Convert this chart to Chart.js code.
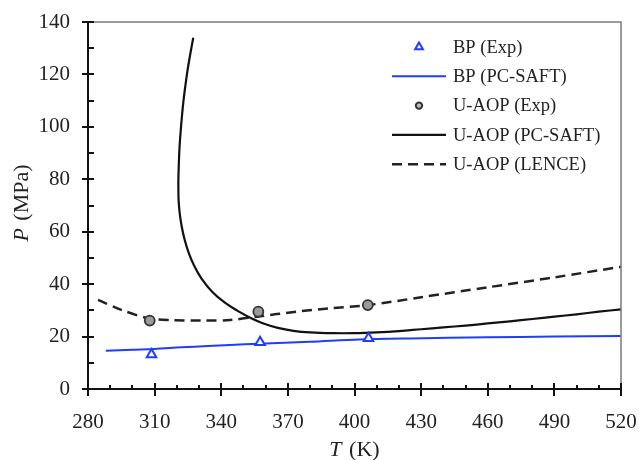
<!DOCTYPE html>
<html>
<head>
<meta charset="utf-8">
<script src="https://cdn.jsdelivr.net/npm/chart.js@4.4.1/dist/chart.umd.min.js"></script>
<style>
  html, body { margin: 0; padding: 0; background: #fff; }
  #wrap { width: 639px; height: 460px; position: relative; }
</style>
</head>
<body>
<div id="wrap"><canvas id="chart" width="639" height="460"></canvas></div>
<script>
// Values (T in K, P in MPa)
const bpExpT = [308.6, 357.5, 406.3];
const bpExpP = [13.2, 17.8, 19.4];

const uaopExpT = [307.8, 356.7, 406.0];
const uaopExpP = [26.1, 29.5, 32.0];

const bpSaftT = [288, 300, 310, 322, 334, 344, 357, 380, 402, 425, 460, 490, 520];
const bpSaftP = [14.6, 15.0, 15.3, 15.9, 16.4, 16.8, 17.3, 18.0, 18.9, 19.3, 19.7, 20.0, 20.2];

const uaopSaftT = [327.4, 326.1, 324.9, 323.9, 323.0, 322.3, 321.7, 321.2, 320.9, 320.7, 320.7, 320.8, 321.3, 322.2, 323.5, 325.3, 327.8, 331.2, 336.0, 341.5, 347.0, 353.5, 359.0, 365.5, 372.5, 380.0, 390.0, 400.0, 410.0, 420.0, 430.0, 440.0, 450.0, 460.0, 470.0, 480.0, 490.0, 500.0, 510.0, 520.0];
const uaopSaftP = [134.0, 128.0, 122.0, 116.0, 110.0, 104.0, 98.0, 92.0, 86.0, 80.0, 76.0, 72.0, 67.0, 62.0, 57.0, 52.0, 47.0, 42.0, 37.0, 33.0, 30.0, 27.0, 25.0, 23.3, 22.2, 21.6, 21.3, 21.3, 21.6, 22.1, 22.8, 23.5, 24.2, 25.0, 25.8, 26.7, 27.6, 28.5, 29.5, 30.4];

const uaopLenceT = [284.5, 295, 307, 317.5, 332.5, 344, 356, 374, 389, 406, 430, 460, 490, 520];
const uaopLenceP = [34.0, 30.2, 27.0, 26.3, 26.1, 26.3, 27.6, 29.5, 30.8, 32.0, 35.0, 38.8, 42.6, 46.6];

const xTicks = [280, 310, 340, 370, 400, 430, 460, 490, 520];
const yTicks = [0, 20, 40, 60, 80, 100, 120, 140];

const BLUE = '#1f3cff';
const FONT = "'Liberation Serif', 'Times New Roman', serif";

const pts = (xs, ys) => xs.map((x, i) => ({ x: x, y: ys[i] }));

// axis frame, ticks, titles and the boxed legend
const framePlugin = {
  id: 'frame',
  afterDraw(chart) {
    const { ctx, chartArea: a, scales: { x, y } } = chart;
    ctx.save();
    // thin grey top/right frame
    ctx.strokeStyle = '#7a7a7a';
    ctx.lineWidth = 1.5;
    ctx.beginPath();
    ctx.moveTo(a.left, a.top);
    ctx.lineTo(a.right, a.top);
    ctx.lineTo(a.right, a.bottom);
    ctx.stroke();

    ctx.strokeStyle = '#111';
    ctx.lineWidth = 2;
    ctx.beginPath();
    for (let v = 0; v <= 140; v += 10) {
      const py = Math.round(y.getPixelForValue(v));
      const major = v % 20 === 0;
      ctx.moveTo(a.left - (major ? 6 : 0), py);
      ctx.lineTo(a.left + 6, py);
    }
    for (let v = 280; v <= 520; v += 10) {
      const px = Math.round(x.getPixelForValue(v));
      const major = (v - 280) % 30 === 0;
      ctx.moveTo(px, a.bottom + (major ? 7 : 0));
      ctx.lineTo(px, a.bottom - (major ? 6 : 4));
    }
    ctx.stroke();

    // axis titles with italic symbols
    ctx.fillStyle = '#222';
    ctx.textBaseline = 'alphabetic';
    const drawMixed = (italic, rest, cx, cy, rot) => {
      ctx.save();
      ctx.translate(cx, cy);
      ctx.rotate(rot);
      ctx.font = 'italic 22px ' + FONT;
      const w1 = ctx.measureText(italic).width;
      ctx.font = '22px ' + FONT;
      const w2 = ctx.measureText(rest).width;
      const start = -(w1 + w2 + 2) / 2;
      ctx.textAlign = 'left';
      ctx.font = 'italic 22px ' + FONT;
      ctx.fillText(italic, start, 0);
      ctx.font = '22px ' + FONT;
      ctx.fillText(rest, start + w1 + 2, 0);
      ctx.restore();
    };
    drawMixed('T', ' (K)', (a.left + a.right) / 2, 456, 0);
    drawMixed('P', ' (MPa)', 28, 203, -Math.PI / 2);

    // legend
    const ds = chart.data.datasets;
    const rowY = 47, rowGap = 29.3, x0 = 392, x1 = 446, tx = 453;
    ctx.font = '18.5px ' + FONT;
    ctx.textAlign = 'left';
    ctx.textBaseline = 'middle';
    ds.forEach((d, i) => {
      const cy = rowY + i * rowGap;
      if (d.showLine) {
        ctx.save();
        ctx.strokeStyle = d.borderColor;
        ctx.lineWidth = d.borderWidth;
        ctx.setLineDash(d.borderDash || []);
        ctx.beginPath();
        ctx.moveTo(x0, cy);
        ctx.lineTo(x1, cy);
        ctx.stroke();
        ctx.restore();
      } else {
        ctx.save();
        ctx.fillStyle = d.pointStyle === 'circle' ? '#bbb' : '#fff';
        ctx.strokeStyle = d.borderColor;
        ctx.lineWidth = 2;
        Chart.helpers.drawPoint(ctx, {
          pointStyle: d.pointStyle,
          radius: d.pointStyle === 'circle' ? 3.2 : 4.5,
          borderWidth: 2,
          rotation: 0
        }, (x0 + x1) / 2, cy);
        ctx.restore();
      }
      ctx.fillStyle = '#222';
      ctx.fillText(d.label, tx, cy + 1);
    });
    ctx.restore();
  }
};

// invisible tick marks only reserve the gap between axis and labels
const hiddenTicks = (len) => ({
  display: true,
  drawOnChartArea: false,
  drawTicks: true,
  tickLength: len,
  tickColor: 'rgba(0,0,0,0)',
});

new Chart(document.getElementById('chart'), {
  type: 'scatter',
  data: {
    datasets: [
      {
        label: 'BP (Exp)',
        data: pts(bpExpT, bpExpP),
        showLine: false,
        pointStyle: 'triangle',
        pointRadius: 5.5,
        pointBorderWidth: 2,
        borderColor: BLUE,
        backgroundColor: '#fff',
        pointBackgroundColor: '#fff',
        pointBorderColor: BLUE,
      },
      {
        label: 'BP (PC-SAFT)',
        data: pts(bpSaftT, bpSaftP),
        showLine: true,
        pointRadius: 0,
        borderColor: BLUE,
        borderWidth: 2,
        tension: 0.3,
      },
      {
        label: 'U-AOP (Exp)',
        data: pts(uaopExpT, uaopExpP),
        showLine: false,
        pointStyle: 'circle',
        pointRadius: 5,
        pointBorderWidth: 1.8,
        borderColor: '#333',
        backgroundColor: '#9a9a9a',
        pointBackgroundColor: '#9a9a9a',
        pointBorderColor: '#333',
      },
      {
        label: 'U-AOP (PC-SAFT)',
        data: pts(uaopSaftT, uaopSaftP),
        showLine: true,
        pointRadius: 0,
        borderColor: '#111',
        borderWidth: 2.2,
        tension: 0.4,
      },
      {
        label: 'U-AOP (LENCE)',
        data: pts(uaopLenceT, uaopLenceP),
        showLine: true,
        pointRadius: 0,
        borderColor: '#222',
        borderWidth: 2.5,
        borderDash: [10, 6],
        tension: 0.3,
      },
    ],
  },
  options: {
    responsive: false,
    animation: false,
    devicePixelRatio: 1,
    layout: { autoPadding: false, padding: { left: 0, right: 18, top: 22, bottom: 0 } },
    plugins: { legend: { display: false }, tooltip: { enabled: false } },
    scales: {
      x: {
        type: 'linear',
        min: 280,
        max: 520,
        afterBuildTicks: (s) => { s.ticks = xTicks.map(v => ({ value: v })); },
        afterFit: (s) => { s.height = 71; },
        grid: hiddenTicks(21),
        border: { display: true, color: '#111', width: 2 },
        ticks: { padding: 0, maxRotation: 0, color: '#222', font: { family: FONT, size: 21 } },
      },
      y: {
        type: 'linear',
        min: 0,
        max: 140,
        afterBuildTicks: (s) => { s.ticks = yTicks.map(v => ({ value: v })); },
        afterFit: (s) => { s.width = 88; },
        grid: hiddenTicks(18),
        border: { display: true, color: '#111', width: 2 },
        ticks: { padding: 0, color: '#222', font: { family: FONT, size: 21 } },
      },
    },
  },
  plugins: [framePlugin],
});
</script>
</body>
</html>
